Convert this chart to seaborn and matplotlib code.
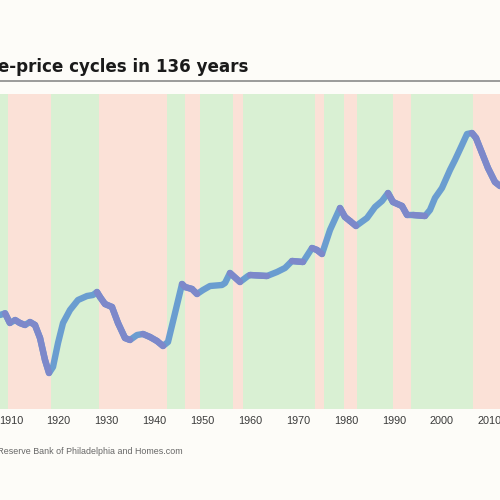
import numpy as np
import pandas as pd
import seaborn as sns
import matplotlib.pyplot as plt

# home price index (arbitrary units)
years = [1907.74, 1908.8, 1909.8, 1910.9, 1911.9, 1912.96, 1914.0, 1915.05, 1916.1,
         1917.14, 1917.98, 1918.81, 1919.86, 1920.9, 1922.36, 1924.03, 1925.91, 1927.17,
         1928.0, 1928.63, 1929.67, 1931.13, 1932.39, 1933.85, 1934.89, 1936.36, 1937.61,
         1939.07, 1940.53, 1941.79, 1942.83, 1944.3, 1945.76, 1946.38, 1947.84, 1948.89,
         1950.14, 1951.6, 1954.11, 1954.74, 1955.78, 1957.87, 1959.54, 1959.96, 1963.51,
         1965.6, 1967.27, 1968.73, 1971.03, 1972.91, 1973.95, 1975.0, 1976.67, 1978.76,
         1979.8, 1980.85, 1982.1, 1984.4, 1986.07, 1987.53, 1988.79, 1989.83, 1991.71,
         1992.76, 1994.0, 1996.52, 1997.56, 1998.6, 2000.06, 2001.73, 2002.78, 2004.24,
         2005.29, 2006.33, 2007.17, 2008.42, 2009.67, 2011.13, 2012.18]
index = [94, 95.7, 86, 89, 86, 84, 87, 84, 71, 49, 36, 42, 66, 86, 99, 109, 113, 114,
         117, 112, 105, 102, 86, 71, 69, 74, 75, 72, 68, 63, 67, 96, 125, 122, 120, 115,
         119, 123, 124, 126, 136, 127, 133, 134, 133, 137, 141, 148, 147, 161, 159, 155,
         179, 201, 192, 188, 183, 191, 202, 208, 216, 207, 203, 194, 194, 193, 199, 211,
         221, 239, 249, 264, 275, 276, 271, 256, 241, 227, 223]

# boom (green) / bust (red) periods
band_starts = [1907.74, 1909.47, 1918.39, 1928.48, 1942.56, 1946.38, 1949.52, 1956.47,
               1958.43, 1973.54, 1975.42, 1979.6, 1982.37, 1989.77, 1993.53, 2006.47]
band_ends = band_starts[1:] + [2012.18]
band_kind = ['up', 'down', 'up', 'down', 'up', 'down', 'up', 'down',
             'up', 'down', 'up', 'down', 'up', 'down', 'up', 'down']

tick_years = [1910, 1920, 1930, 1940, 1950, 1960, 1970, 1980, 1990, 2000, 2010]

title = 'Home-price cycles in 136 years'
source = 'Source: Federal Reserve Bank of Philadelphia and Homes.com'

bg = '#fdfcf8'
sns.set_style('white')
plt.rcParams['font.family'] = ['Liberation Sans', 'DejaVu Sans']

fig = plt.figure(figsize=(5, 5), dpi=100, facecolor=bg)
ax = fig.add_axes([0, 0.182, 1, 0.63])
ax.set_facecolor(bg)

band_colors = {'up': '#d9f0d3', 'down': '#fbe1d7'}
for s, e, k in zip(band_starts, band_ends, band_kind):
    ax.axvspan(s, e, color=band_colors[k], lw=0, zorder=0)

df = pd.DataFrame({'year': years, 'index': index})
sns.lineplot(data=df, x='year', y='index', color='#6a9dd0', lw=4.6,
             solid_capstyle='round', solid_joinstyle='round', ax=ax, zorder=3)

# falling stretches drawn in purple
diff = np.diff(df['index'].values)
for i, d in enumerate(diff):
    if d < 0:
        seg = df.iloc[i:i + 2]
        sns.lineplot(data=seg, x='year', y='index', color='#7d88ca', lw=4.6,
                     solid_capstyle='round', ax=ax, zorder=4)

ax.set_xlim(years[0], years[-1])
ax.set_ylim(0, 315)
ax.set_xticks(tick_years)
ax.set_xticklabels([str(t) for t in tick_years], fontsize=7.8, color='#3a3a3a')
ax.tick_params(axis='x', length=0, pad=5)
ax.set_yticks([])
ax.set_xlabel('')
ax.set_ylabel('')
for sp in ax.spines.values():
    sp.set_visible(False)

fig.text(0.496, 0.856, title, ha='right', va='baseline', fontsize=12.1,
         fontweight='bold', color='#1a1a1a', family='DejaVu Sans')
fig.add_artist(plt.Line2D([0, 1], [0.8386, 0.8386], color='#8a8a8a', lw=1.2))
fig.text(0.366, 0.092, source, ha='right', va='baseline', fontsize=6.4,
         color='#666666')

fig.savefig('out.png', dpi=100, facecolor=bg)
